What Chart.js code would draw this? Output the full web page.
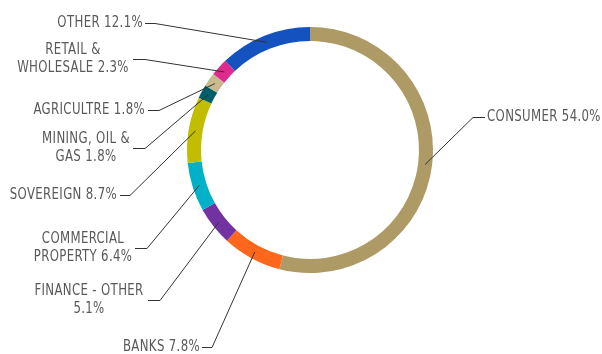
<!DOCTYPE html>
<html>
<head>
<meta charset="utf-8">
<script src="https://cdn.jsdelivr.net/npm/chart.js@4/dist/chart.umd.min.js"></script>
<style>
  html, body { margin: 0; padding: 0; background: #fff; }
  #wrap { width: 602px; height: 354px; }
</style>
</head>
<body>
<div id="wrap"><canvas id="ring" width="602" height="354"></canvas></div>
<script>
// exposure by sector, % of book, clockwise from 12 o'clock
const sectors = ["CONSUMER", "BANKS", "FINANCE - OTHER", "COMMERCIAL PROPERTY", "SOVEREIGN",
                 "MINING, OIL & GAS", "AGRICULTRE", "RETAIL & WHOLESALE", "OTHER"];
const shares = [54.0, 7.8, 5.1, 6.4, 8.7, 1.8, 1.8, 2.3, 12.1];
const colours = ["#AE9A64", "#FF671C", "#7232A2", "#00B1C9", "#C2BD00",
                 "#005F6A", "#C8BA8D", "#DE2A8C", "#1452BF"];

// where each callout sits: elbow of the leader, end of the short flat bit, text anchor
const callouts = [
  { elbow: [473, 117], flat: 485, tx: 487, ty: 117, align: "left",   split: 0 },
  { elbow: [212, 347], flat: 202, tx: 200, ty: 347, align: "right",  split: 0 },
  { elbow: [160, 300], flat: 148, tx: 89,  ty: 300, align: "center", split: 3 },
  { elbow: [147, 248], flat: 135, tx: 83,  ty: 248, align: "center", split: 1 },
  { elbow: [130, 195], flat: 120, tx: 117, ty: 195, align: "right",  split: 0 },
  { elbow: [145, 148], flat: 133, tx: 86,  ty: 148, align: "center", split: 3 },
  { elbow: [159, 110], flat: 148, tx: 145, ty: 110, align: "right",  split: 0 },
  { elbow: [145, 59],  flat: 133, tx: 73,  ty: 59,  align: "center", split: 2 },
  { elbow: [155, 23],  flat: 145, tx: 143, ty: 23,  align: "right",  split: 0 }
];
const squeeze = 0.87;

const calloutPlugin = {
  id: "callouts",
  afterDatasetsDraw(chart) {
    const ctx = chart.ctx;
    const arcs = chart.getDatasetMeta(0).data;
    ctx.save();
    ctx.strokeStyle = "#333";
    ctx.lineWidth = 1;
    arcs.forEach((arc, i) => {
      const c = callouts[i];
      const p = arc.getProps(["x", "y", "startAngle", "endAngle", "innerRadius", "outerRadius"], true);
      const mid = (p.startAngle + p.endAngle) / 2;
      const r = (p.innerRadius + p.outerRadius) / 2;
      const ax = p.x + Math.cos(mid) * r;
      const ay = p.y + Math.sin(mid) * r;
      ctx.beginPath();
      ctx.moveTo(ax, ay);
      ctx.lineTo(c.elbow[0], c.elbow[1] + 0.5);
      ctx.lineTo(c.flat, c.elbow[1] + 0.5);
      ctx.stroke();

      const text = sectors[i] + " " + shares[i].toFixed(1) + "%";
      let lines = [text];
      if (c.split) {
        const words = text.split(" ");
        lines = [words.slice(0, c.split).join(" "), words.slice(c.split).join(" ")];
      }
      const step = 18;
      const top = c.ty - (lines.length - 1) * step / 2;
      lines.forEach((ln, k) => {
        ctx.save();
        ctx.translate(c.tx, top + k * step);
        ctx.scale(squeeze, 1);
        ctx.font = "15px 'DejaVu Sans Condensed', 'DejaVu Sans', sans-serif";
        ctx.letterSpacing = "0.4px";
        ctx.fillStyle = "#595959";
        ctx.textAlign = c.align;
        ctx.textBaseline = "middle";
        ctx.fillText(ln, 0, 0);
        ctx.restore();
      });
    });
    ctx.restore();
  }
};

new Chart(document.getElementById("ring"), {
  type: "doughnut",
  data: {
    labels: sectors,
    datasets: [{
      data: shares,
      backgroundColor: colours,
      borderWidth: 0,
      hoverOffset: 0
    }]
  },
  options: {
    responsive: false,
    animation: false,
    cutout: "88.6%",
    layout: { padding: { top: 27, bottom: 81, left: 187, right: 169 } },
    plugins: {
      legend: { display: false },
      tooltip: { enabled: false }
    }
  },
  plugins: [calloutPlugin]
});
</script>
</body>
</html>
